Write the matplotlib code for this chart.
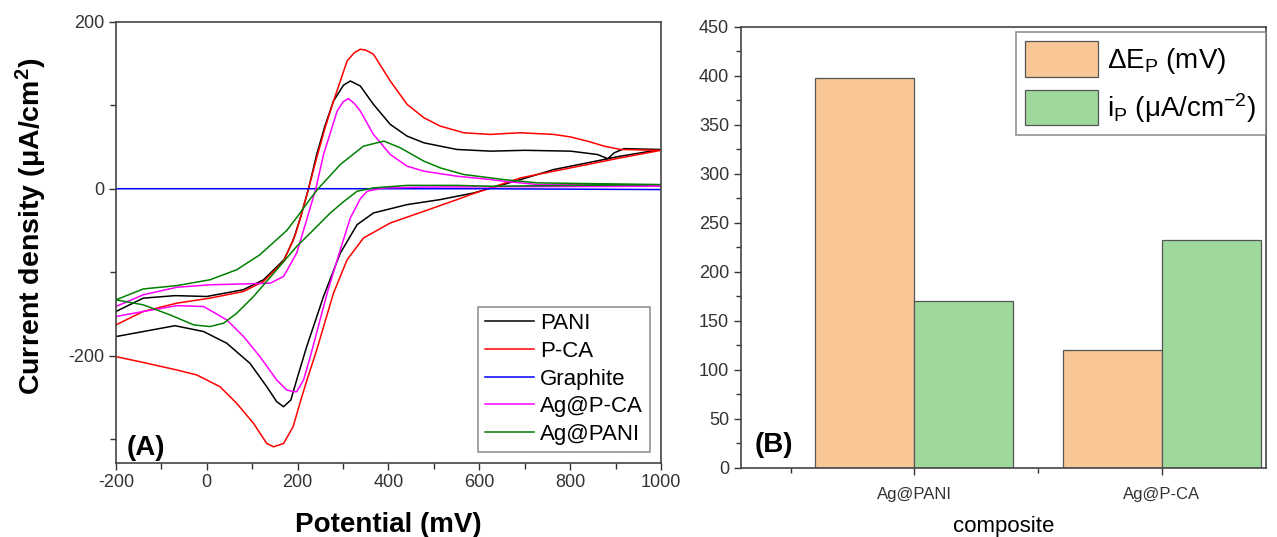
import matplotlib
matplotlib.use('Agg')
import matplotlib.pyplot as plt
import numpy as np
from matplotlib.ticker import MultipleLocator

plt.rcParams['font.family'] = ['Liberation Sans', 'DejaVu Sans']
plt.rcParams['axes.unicode_minus'] = False
plt.rcParams['mathtext.fontset'] = 'custom'
plt.rcParams['mathtext.rm'] = 'Liberation Sans'
plt.rcParams['mathtext.it'] = 'Liberation Sans'
plt.rcParams['mathtext.bf'] = 'Liberation Sans:bold'

# ---- (A) cyclic voltammograms: potential (mV), current density (uA/cm2)
# forward (anodic) scan -200 -> 1000, then reverse (cathodic) 1000 -> -200
pani_E = [-200, -140, -70, 0, 80, 125, 170, 190, 206, 224, 242, 260, 279, 301, 316, 338, 367, 404, 441, 478,
          514, 551, 625, 700, 801, 860, 883, 897, 919, 1000,
          911, 838, 764, 691, 640, 588, 514, 441, 367, 331, 294, 257, 220, 200, 185, 169, 154, 132, 95, 44,
          -7, -70, -140, -200]
pani_j = [-147, -131, -128, -129, -121, -109, -85, -62, -35, 0, 41, 75, 105, 124, 129, 123, 101, 77, 63, 55,
          51, 47, 45, 46, 45, 41, 36, 43, 48, 47,
          39, 31, 23, 11, 3, -5, -13, -19, -29, -43, -77, -129, -189, -225, -253, -261, -255, -237, -209, -185,
          -171, -164, -171, -177]

pca_E = [-200, -140, -66, 7, 81, 125, 169, 195, 206, 224, 242, 260, 279, 309, 325, 338, 350, 367, 404, 441,
         478, 514, 566, 625, 654, 691, 764, 801, 838, 875, 911, 1000,
         911, 838, 764, 691, 625, 581, 551, 478, 404, 345, 309, 279, 242, 220, 206, 190, 169, 147, 132, 103,
         66, 29, -22, -66, -140, -200]
pca_j = [-163, -147, -137, -131, -123, -111, -87, -55, -35, 0, 37, 72, 105, 153, 163, 167, 166, 161, 129, 101,
         85, 75, 67, 65, 66, 67, 65, 62, 57, 51, 47, 46,
         37, 29, 21, 13, 1, -7, -13, -27, -41, -59, -85, -125, -193, -230, -255, -285, -305, -309, -305, -281,
         -257, -237, -223, -217, -208, -201]

graphite_E = [-200, 200, 600, 1000]
graphite_j = [0, 0, 0, -1]

agpca_E = [-200, -140, -66, 7, 81, 140, 169, 198, 220, 240, 257, 287, 300, 312, 325, 338, 367, 404, 441, 478,
           551, 625, 654, 728, 1000,
           1000, 478, 390, 353, 338, 316, 294, 265, 228, 213, 198, 191, 176, 154, 117, 81, 44, -7, -66,
           -140, -200]
agpca_j = [-141, -127, -118, -115, -114, -113, -105, -77, -37, 0, 41, 93, 104, 108, 102, 93, 65, 41, 27, 21,
           15, 11, 9, 5, 4,
           3, 2, 1, -3, -12, -35, -73, -125, -201, -229, -243, -243, -241, -229, -201, -177, -157, -141, -140,
           -147, -153]

agpani_E = [-200, -140, -66, 7, 66, 117, 176, 200, 228, 245, 294, 345, 390, 426, 478, 514, 566, 625, 654, 728,
            1000,
            1000, 625, 551, 441, 367, 331, 300, 272, 228, 198, 154, 103, 66, 37, 7, -29, -81, -140, -200]
agpani_j = [-133, -120, -116, -109, -97, -79, -50, -33, -12, 0, 29, 51, 57, 49, 33, 25, 17, 13, 11, 7,
            5,
            5, 3, 4, 4, 1, -3, -16, -29, -53, -69, -97, -129, -149, -161, -165, -163, -151, -139, -133]

# ---- (B) bar chart
composites = ['Ag@PANI', 'Ag@P-CA']
delta_Ep = [398, 120]
i_p = [170, 232]

fig = plt.figure(figsize=(12.77, 5.37), dpi=100)
axA = fig.add_axes([0.0908, 0.1384, 0.4268, 0.8212])
axB = fig.add_axes([0.5803, 0.1289, 0.4111, 0.8212])

axA.plot(pani_E, pani_j, color='black', lw=1.1, label='PANI')
axA.plot(pca_E, pca_j, color='#FF0000', lw=1.1, label='P-CA')
axA.plot(graphite_E, graphite_j, color='#0000FF', lw=1.1, label='Graphite')
axA.plot(agpca_E, agpca_j, color='#FF00FF', lw=1.1, label='Ag@P-CA')
axA.plot(agpani_E, agpani_j, color='#008000', lw=1.1, label='Ag@PANI')

axA.set_xlim(-200, 1000)
axA.set_ylim(-328, 200)
axA.xaxis.set_major_locator(MultipleLocator(200))
axA.xaxis.set_minor_locator(MultipleLocator(100))
axA.yaxis.set_major_locator(MultipleLocator(200))
axA.yaxis.set_minor_locator(MultipleLocator(100))
axA.tick_params(which='both', direction='out', labelsize=13, colors='#333333', width=1.0)
axA.tick_params(which='major', length=5)
axA.tick_params(which='minor', length=4)
axA.set_xlabel('Potential (mV)', fontsize=20, fontweight='bold', labelpad=15)
axA.set_ylabel(r'Current density (μA/cm$^\mathbf{2}$)', fontsize=20.5, fontweight='bold')
axA.yaxis.set_label_coords(-0.122, 0.535)
for s in axA.spines.values():
    s.set_color('#444444')
    s.set_linewidth(1.2)
legA = axA.legend(loc='lower right', fontsize=16, frameon=True, fancybox=False, handlelength=2.2,
                  labelspacing=0.3, borderpad=0.3, handletextpad=0.3, borderaxespad=0.5)
legA.get_frame().set_edgecolor('#777777')
legA.get_frame().set_linewidth(1.2)
axA.text(0.02, 0.018, '(A)', transform=axA.transAxes, fontsize=20, fontweight='bold')

x = np.arange(1, len(composites) + 1)
w = 0.4
axB.bar(x - w / 2, delta_Ep, w, color='#F9C796', edgecolor='#555555', lw=0.9, label=r'$\Delta$E$_\mathrm{P}$ (mV)')
axB.bar(x + w / 2, i_p, w, color='#9ED89B', edgecolor='#555555', lw=0.9, label=r'i$_\mathrm{P}$ (μA/cm$^{-2}$)')
axB.set_xlim(0.3, 2.42)
axB.set_ylim(0, 450)
axB.set_xticks(x)
axB.set_xticklabels(composites)
axB.xaxis.set_minor_locator(MultipleLocator(0.5))
axB.yaxis.set_major_locator(MultipleLocator(50))
axB.yaxis.set_minor_locator(MultipleLocator(25))
axB.tick_params(which='both', direction='out', colors='#333333', width=1.0)
axB.tick_params(axis='y', labelsize=13)
axB.tick_params(axis='x', labelsize=12, pad=9)
axB.tick_params(which='major', length=5)
axB.tick_params(which='minor', length=3.5)
axB.set_xlabel('composite', fontsize=16, labelpad=10)
for s in axB.spines.values():
    s.set_color('#444444')
    s.set_linewidth(1.2)
legB = axB.legend(loc='upper right', bbox_to_anchor=(1.0, 0.989), fontsize=20, frameon=True, fancybox=False,
                  handlelength=2.6, handleheight=1.6, labelspacing=0.45, borderpad=0.35, handletextpad=0.35,
                  borderaxespad=0.0)
legB.get_frame().set_edgecolor('#777777')
legB.get_frame().set_linewidth(1.2)
axB.text(0.025, 0.036, '(B)', transform=axB.transAxes, fontsize=20, fontweight='bold')

fig.savefig('out.png', dpi=100)
